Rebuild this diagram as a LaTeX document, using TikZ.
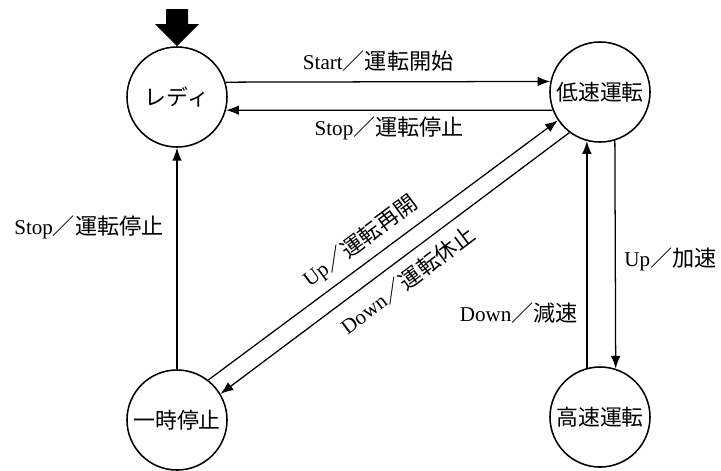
\documentclass[tikz,border=0pt]{standalone}
\usepackage{fontspec}
\setmainfont{Liberation Serif}
\newfontfamily\jp[Scale=1.05]{Noto Sans CJK JP}
\usetikzlibrary{arrows.meta}
\newcommand{\ev}[2]{#1{\jp ／#2}}

\begin{document}
\begin{tikzpicture}[x=0.025cm, y=-0.025cm,
		state/.style={draw, circle, line width=1.1pt, minimum size=2.5cm, inner sep=0pt, font=\fontsize{14.8}{17}\selectfont\jp},
		trans/.style={line width=0.9pt, -{Latex[length=3.2mm,width=2.4mm]}},
		lbl/.style={font=\fontsize{15}{17}\selectfont, inner sep=3pt}]
			\useasboundingbox (0,0) rectangle (721,470);

			\begin{scope}
				\node[state] (ready) at (177,97) {レディ};
				\node[state] (low) at (600,92) {低速運転};
				\node[state] (pause) at (177,420) {一時停止};
				\node[state] (high) at (600,417) {高速運転};
			\end{scope}

			\begin{scope}
				\fill (ready.north) -- ++(-22,-22) -- ++(11,0) -- ++(0,-15) -- ++(22,0) -- ++(0,15) -- ++(11,0) -- cycle;
			\end{scope}

			\begin{scope}
				\draw[trans] (ready.17.5) -- node[lbl, above=4pt, pos=0.47] {\ev{Start}{運転開始}} (low.168.5);
				\draw[trans] (low.201.1) -- node[lbl, below=1pt, pos=0.5] {\ev{Stop}{運転停止}} (ready.345);
				\draw[trans] (pause.north) -- node[lbl, left=6pt, pos=0.64] {\ev{Stop}{運転停止}} (ready.south);
				\draw[trans] (pause.52.5) -- node[lbl, above=3pt, sloped, pos=0.47] {\ev{Up}{運転再開}} (low.214.9);
				\draw[trans] (low.233.8) -- node[lbl, below=4pt, sloped, pos=0.5] {\ev{Down}{運転休止}} (pause.31.3);
				\draw[trans] (low.287.5) -- node[lbl, right=3pt, pos=0.52] {\ev{Up}{加速}} (high.72.5);
				\draw[trans] (high.105) -- node[lbl, left=3pt, pos=0.24] {\ev{Down}{減速}} (low.255);
			\end{scope}
		\end{tikzpicture}
\end{document}
